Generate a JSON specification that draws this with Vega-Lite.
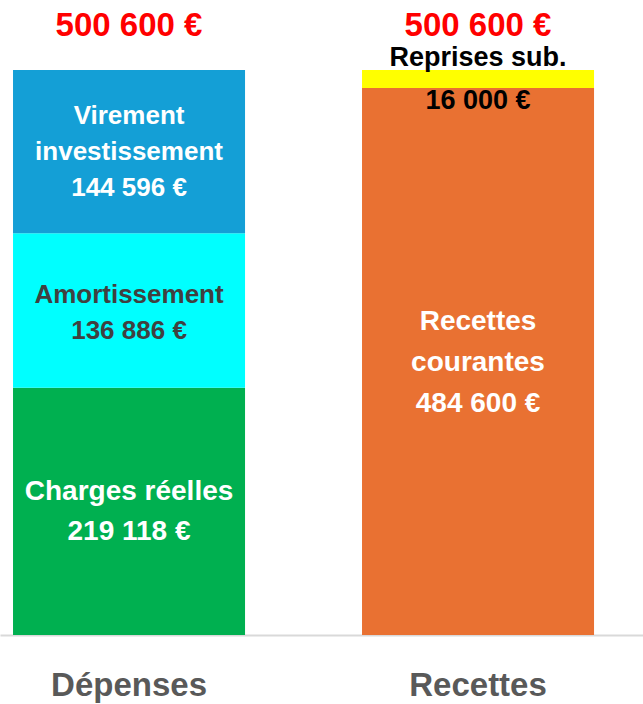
{
  "$schema": "https://vega.github.io/schema/vega-lite/v6.json",
  "autosize": {"type": "none"},
  "width": 643,
  "height": 565,
  "padding": {"top": 70, "bottom": 69, "left": 0, "right": 0},
  "background": "white",
  "config": {
    "view": {"stroke": null},
    "font": "Liberation Sans",
    "locale": {"number": {"decimal": ",", "thousands": " ", "grouping": [3], "currency": ["", " €"]}}
  },
  "data": {"values": [
    {"side": "Dépenses", "category": "Charges réelles", "order": 1, "value": 219118, "label": "Charges réelles\n219 118 €"},
    {"side": "Dépenses", "category": "Amortissement", "order": 2, "value": 136886, "label": "Amortissement\n136 886 €"},
    {"side": "Dépenses", "category": "Virement investissement", "order": 3, "value": 144596, "label": "Virement\ninvestissement\n144 596 €"},
    {"side": "Recettes", "category": "Recettes courantes", "order": 1, "value": 484600, "label": "Recettes\ncourantes\n484 600 €"},
    {"side": "Recettes", "category": "Reprises sub.", "order": 2, "value": 16000, "label": "Reprises sub.\n16 000 €"}
  ]},
  "transform": [
    {"stack": "value", "groupby": ["side"], "sort": [{"field": "order", "order": "ascending"}], "as": ["y0", "y1"]},
    {"calculate": "(datum.y0 + datum.y1) / 2", "as": "mid"},
    {"joinaggregate": [{"op": "sum", "field": "value", "as": "total"}], "groupby": ["side"]}
  ],
  "encoding": {
    "x": {
      "field": "side", "type": "nominal", "sort": ["Dépenses", "Recettes"], "title": null,
      "scale": {"paddingInner": 0.3352, "paddingOuter": 0.0888, "align": 0.21},
      "axis": {"labelAngle": 0, "ticks": false, "domainColor": "#d9d9d9", "domainWidth": 2,
               "labelFontSize": 33, "labelFontWeight": "bold", "labelColor": "#595959",
               "labelBaseline": "middle", "labelPadding": 50, "labelFont": "Liberation Sans"}
    }
  },
  "layer": [
    {
      "mark": {"type": "bar"},
      "encoding": {
        "y": {"field": "y0", "type": "quantitative", "scale": {"domain": [0, 500600], "nice": false, "zero": true}, "axis": null},
        "y2": {"field": "y1"},
        "color": {"field": "category", "type": "nominal", "legend": null,
          "scale": {"domain": ["Charges réelles", "Amortissement", "Virement investissement", "Recettes courantes", "Reprises sub."],
                    "range": ["#00B050", "#00FFFF", "#149FD6", "#E97132", "#FFFF00"]}}
      }
    },
    {
      "transform": [{"filter": "datum.category == 'Virement investissement'"}],
      "mark": {"type": "text", "lineBreak": "\n", "fontSize": 26, "fontWeight": "bold", "color": "white", "lineHeight": 36, "baseline": "middle", "dy": -36},
      "encoding": {"y": {"field": "mid", "type": "quantitative"}, "text": {"field": "label"}}
    },
    {
      "transform": [{"filter": "datum.category == 'Amortissement'"}],
      "mark": {"type": "text", "lineBreak": "\n", "fontSize": 26, "fontWeight": "bold", "color": "#404040", "lineHeight": 36, "baseline": "middle", "dy": -15},
      "encoding": {"y": {"field": "mid", "type": "quantitative"}, "text": {"field": "label"}}
    },
    {
      "transform": [{"filter": "datum.category == 'Charges réelles'"}],
      "mark": {"type": "text", "lineBreak": "\n", "fontSize": 28, "fontWeight": "bold", "color": "white", "lineHeight": 40, "baseline": "middle", "dy": -19},
      "encoding": {"y": {"field": "mid", "type": "quantitative"}, "text": {"field": "label"}}
    },
    {
      "transform": [{"filter": "datum.category == 'Recettes courantes'"}],
      "mark": {"type": "text", "lineBreak": "\n", "fontSize": 28, "fontWeight": "bold", "color": "white", "lineHeight": 41, "baseline": "middle", "dy": -40},
      "encoding": {"y": {"field": "mid", "type": "quantitative"}, "text": {"field": "label"}}
    },
    {
      "transform": [{"filter": "datum.category == 'Reprises sub.'"}],
      "mark": {"type": "text", "lineBreak": "\n", "fontSize": 27, "fontWeight": "bold", "color": "black", "lineHeight": 43, "baseline": "middle", "dy": -21},
      "encoding": {"y": {"field": "mid", "type": "quantitative"}, "text": {"field": "label"}}
    },
    {
      "transform": [{"filter": "datum.order == 1"}],
      "mark": {"type": "text", "fontSize": 33, "fontWeight": "bold", "color": "#FF0000", "baseline": "middle", "dy": -44},
      "encoding": {"y": {"field": "total", "type": "quantitative"}, "text": {"field": "total", "type": "quantitative", "format": "$,.0f"}}
    }
  ]
}
